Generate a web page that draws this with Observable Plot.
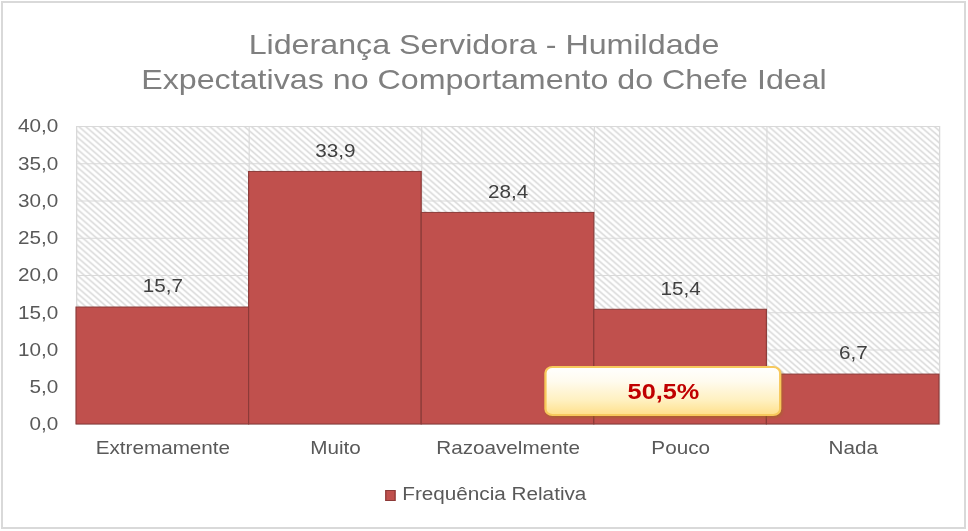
<!DOCTYPE html>
<html>
<head>
<meta charset="utf-8">
<script src="https://cdn.jsdelivr.net/npm/d3@7"></script>
<script src="https://cdn.jsdelivr.net/npm/@observablehq/plot@0.6"></script>
<style>
  html, body { margin: 0; padding: 0; background: #fff; }
  body { width: 968px; height: 531px; position: relative; overflow: hidden; font-family: "Liberation Sans", Arial, sans-serif; }
  #border { position: absolute; left: 1px; top: 1px; width: 965px; height: 528px; box-sizing: border-box; border: 2px solid #d9d9d9; }
  #inner { position: absolute; left: 0; top: 0; height: 531px; transform-origin: 0 0; }
  #title { position: absolute; left: 0; top: 27px; width: 100%; text-align: center; font-size: 28px; line-height: 35px; color: #7f7f7f; }
  #chart { position: absolute; left: 0; top: 100px; }
  #legend { position: absolute; top: 483px; font-size: 18px; color: #595959; line-height: 22px; white-space: nowrap; }
  #legend .sw { display: inline-block; width: 9px; height: 11px; background: #C0504D; border: 1px solid #8B3A38; box-sizing: border-box; vertical-align: -1px; margin-right: 6px; }
</style>
</head>
<body>
<div id="border"></div>
<div id="inner">
  <div id="title">Liderança Servidora - Humildade<br>Expectativas no Comportamento do Chefe Ideal</div>
  <div id="chart"></div>
  <div id="legend"><span class="sw"></span><span id="legendText"></span></div>
</div>
<script>
// ---- data ----
const categories = ["Extremamente", "Muito", "Razoavelmente", "Pouco", "Nada"];
const values = [15.7, 33.9, 28.4, 15.4, 6.7];
const yTicks = [0, 5, 10, 15, 20, 25, 30, 35, 40];
const seriesName = "Frequência Relativa";
const annotationLabels = ["50,5%"];
const annotationX1 = [2.72];
const annotationX2 = [4.08];
const annotationY1 = [1.2];
const annotationY2 = [7.65];

// ---- layout ----
const S = 1.15;               // horizontal stretch of the reference
const W = 968 / S;
document.getElementById("inner").style.width = W + "px";
document.getElementById("inner").style.transform = `scaleX(${S})`;
document.getElementById("legendText").textContent = seriesName;
const legend = document.getElementById("legend");
legend.style.left = (385 / S) + "px";

const fmt = d => d.toFixed(1).replace(".", ",");
const rows = categories.map((c, i) => ({cat: c, i, v: values[i]}));
const ann = annotationLabels.map((t, k) => ({label: t, x1: annotationX1[k], x2: annotationX2[k], y1: annotationY1[k], y2: annotationY2[k]}));

const chart = Plot.plot({
  width: W,
  height: 370,
  marginLeft: 76 / S,
  marginRight: W - 939 / S,
  marginTop: 26,
  marginBottom: 46,
  x: {domain: [0, categories.length], axis: null},
  y: {domain: [0, 40], axis: null},
  style: {fontFamily: "'Liberation Sans', Arial, sans-serif", fontSize: "18px", color: "#595959", background: "transparent"},
  marks: [
    Plot.frame({fill: "url(#hatch)", stroke: "#d9d9d9"}),
    Plot.ruleY(yTicks, {stroke: "#d9d9d9", strokeWidth: 1}),
    Plot.ruleX(d3.range(0, categories.length + 1), {stroke: "#d9d9d9", strokeWidth: 1}),
    Plot.rectY(rows, {x1: "i", x2: d => d.i + 1, y: "v", fill: "#C0504D", stroke: "#8B3A38", strokeWidth: 1}),
    Plot.text(rows, {x: d => d.i + 0.5, y: "v", text: d => fmt(d.v), dy: -21, fill: "#404040", fontSize: 18}),
    Plot.axisY(yTicks, {tickSize: 0, tickPadding: 16, tickFormat: fmt, fontSize: 18, fill: "#595959"}),
    Plot.axisX(rows.map(d => d.i + 0.5), {tickSize: 0, tickPadding: 17, tickFormat: d => categories[Math.floor(d)], fontSize: 18, fill: "#595959"}),
    Plot.rect(ann, {x1: "x1", x2: "x2", y1: "y1", y2: "y2", rx: 6, fill: "url(#annGrad)", stroke: "#F7C95C", strokeWidth: 2}),
    Plot.text(ann, {x: d => (d.x1 + d.x2) / 2, y: d => (d.y1 + d.y2) / 2, text: "label", fill: "#C00000", fontWeight: "bold", fontSize: 22})
  ]
});

// pattern + gradient defs
const svg = d3.select(chart);
const defs = svg.insert("defs", ":first-child");
const pat = defs.append("pattern").attr("id", "hatch").attr("patternUnits", "userSpaceOnUse")
  .attr("width", 6).attr("height", 6);
pat.append("rect").attr("width", 6).attr("height", 6).attr("fill", "#ffffff");
pat.append("path").attr("d", "M0,0L6,6M-1,5L1,7M5,-1L7,1").attr("stroke", "#d6d6d6").attr("stroke-width", 1.3);
const grad = defs.append("linearGradient").attr("id", "annGrad").attr("x1", 0).attr("y1", 0).attr("x2", 0).attr("y2", 1);
grad.append("stop").attr("offset", "0%").attr("stop-color", "#ffffff");
grad.append("stop").attr("offset", "30%").attr("stop-color", "#fffbee");
grad.append("stop").attr("offset", "70%").attr("stop-color", "#fff0bf");
grad.append("stop").attr("offset", "100%").attr("stop-color", "#ffe08a");
svg.selectAll("g").filter(function() { return this.getAttribute("fill") === "url(#annGrad)"; })
  .style("filter", "drop-shadow(1px 2px 1px rgba(150,110,20,0.45))");

document.getElementById("chart").appendChild(chart);
</script>
</body>
</html>
